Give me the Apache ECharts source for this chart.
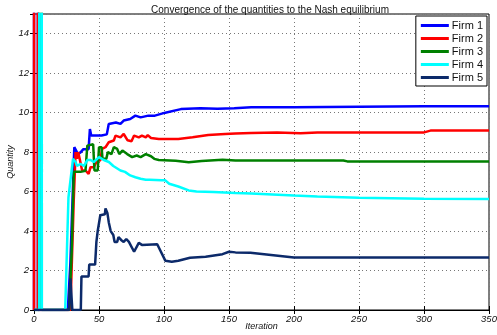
<!DOCTYPE html>
<html>
<head>
<meta charset="utf-8">
<script src="https://cdn.jsdelivr.net/npm/echarts@6/dist/echarts.min.js"></script>
<style>
  html, body { margin: 0; padding: 0; background: #fff; }
  #chart { width: 497px; height: 335px; }
</style>
</head>
<body>
<div id="chart"></div>
<script>
const firmNames = ['Firm 1', 'Firm 2', 'Firm 3', 'Firm 4', 'Firm 5'];
const firmColors = ['#0000ff', '#ff0000', '#008000', '#00ffff', '#0c2a6a'];

// iteration / quantity pairs
const firm1X = [0, 1, 2, 3, 26, 28, 31, 32, 33.8, 36, 38, 42, 43, 44, 52, 56, 57.5, 63, 66.5, 69, 74, 78, 82, 88, 93, 101, 113, 128, 141, 154, 167, 200, 250, 300, 350];
const firm1Y = [0, 0, 1000, 0, 0, 2.4, 8.25, 8.25, 7.9, 8.0, 8.15, 8.15, 9.17, 8.84, 8.84, 8.9, 9.43, 9.5, 9.43, 9.6, 9.68, 9.85, 9.76, 9.85, 9.85, 10.0, 10.18, 10.23, 10.2, 10.23, 10.27, 10.28, 10.3, 10.32, 10.32];

const firm2X = [0, 1, 2, 3, 28, 30.6, 32, 33, 34, 36, 37, 39.6, 42, 43.5, 46, 48.6, 51, 52.4, 55, 57.5, 61.4, 62.7, 66.5, 69, 72, 75, 77, 80.6, 83, 86, 87.5, 90, 96, 111, 122, 134, 147, 155, 167, 187, 205, 218, 250, 300, 305, 350];
const firm2Y = [0, 0, 1000, 0, 0, 5.6, 8.0, 7.66, 8.0, 7.4, 7.07, 7.07, 6.9, 7.24, 7.24, 7.58, 7.58, 8.17, 8.25, 8.5, 8.59, 8.84, 8.75, 8.92, 8.6, 8.55, 8.84, 8.75, 8.84, 8.75, 8.86, 8.72, 8.67, 8.67, 8.75, 8.87, 8.92, 8.95, 8.97, 8.99, 8.96, 9.0, 9.0, 9.0, 9.09, 9.09];

const firm3X = [0, 4, 5, 6, 27, 29, 30.6, 35.8, 39.6, 41, 45.5, 46.5, 49, 50, 52, 52.7, 55.6, 56.8, 59.6, 61.4, 64, 65.6, 68, 71.7, 75.5, 79, 82, 86, 90, 92.5, 96, 109, 119, 129, 145, 155, 167, 238, 241, 350];
const firm3Y = [0, 0, 1000, 0, 0, 3.0, 7.0, 7.0, 7.05, 8.33, 8.4, 7.07, 7.07, 8.25, 8.25, 7.66, 7.66, 8.0, 7.9, 8.25, 8.16, 7.9, 8.08, 7.9, 7.75, 7.83, 7.75, 7.9, 7.79, 7.66, 7.6, 7.56, 7.49, 7.55, 7.62, 7.58, 7.58, 7.58, 7.53, 7.53];

const firm4X = [0, 4, 5, 6, 24, 26.5, 30, 32, 33, 36, 38.5, 41, 43.5, 46, 50, 53.7, 57.6, 61, 66.5, 70, 74, 78, 82, 86, 89, 98, 101, 104, 111, 119, 125, 138, 155, 167, 200, 218, 250, 300, 350];
const firm4Y = [0, 0, 1000, 0, 0, 5.7, 7.66, 7.5, 7.3, 7.4, 7.3, 7.6, 7.6, 7.5, 7.75, 7.6, 7.5, 7.3, 7.07, 7.0, 6.82, 6.73, 6.65, 6.6, 6.6, 6.58, 6.57, 6.4, 6.26, 6.06, 6.0, 5.98, 5.93, 5.9, 5.8, 5.75, 5.69, 5.64, 5.62];

const firm5X = [0, 27, 28, 29.5, 36, 36.5, 42, 42.5, 47, 48, 49, 50, 51, 54.5, 55, 56.5, 57.5, 59, 61, 62, 64, 65, 67, 69, 71, 73, 77, 80.6, 83, 94.8, 101, 106, 111, 120, 132, 145, 150, 155, 166.5, 200, 350];
const firm5Y = [0, 0, 1.6, 0, 0, 1.7, 1.7, 2.3, 2.3, 3.45, 4.0, 4.4, 4.8, 4.85, 5.15, 4.9, 4.45, 4.0, 3.8, 3.45, 3.45, 3.7, 3.55, 3.45, 3.6, 3.45, 2.95, 3.4, 3.3, 3.33, 2.5, 2.45, 2.5, 2.65, 2.7, 2.83, 2.95, 2.92, 2.9, 2.66, 2.66];

const xTicks = [0, 50, 100, 150, 200, 250, 300, 350];
const yTicks = [0, 2, 4, 6, 8, 10, 12, 14];

const firmX = [firm1X, firm2X, firm3X, firm4X, firm5X];
const firmY = [firm1Y, firm2Y, firm3Y, firm4Y, firm5Y];

const font = 'Liberation Sans';
const chart = echarts.init(document.getElementById('chart'));

const gridLine = { show: true, lineStyle: { color: '#777', type: [1, 3], width: 1 } };
const tickIn = { show: true, inside: true, length: 4, lineStyle: { color: '#000' } };

chart.setOption({
  animation: false,
  title: {
    text: 'Convergence of the quantities to the Nash equilibrium',
    left: 265, textAlign: 'center', top: 0,
    textStyle: { fontFamily: font, fontSize: 10, fontWeight: 'normal', color: '#111' }
  },
  grid: { left: 34, right: 8, top: 14, bottom: 25, outerBoundsMode: 'none', containLabel: false,
    show: true, borderColor: '#000', borderWidth: 1 },
  legend: {
    data: firmNames,
    orient: 'vertical',
    right: 10, top: 16,
    backgroundColor: '#fff',
    borderColor: '#000', borderWidth: 1,
    padding: [4, 4, 3, 5],
    itemGap: 2,
    itemWidth: 28, itemHeight: 3,
    icon: 'rect',
    textStyle: { fontFamily: font, fontSize: 11, color: '#111', padding: [0, 0, 0, -2] }
  },
  xAxis: [{
    type: 'value', min: 0, max: 350, interval: 50,
    name: 'Iteration', nameLocation: 'middle', nameGap: 12, nameMoveOverlap: false,
    nameTextStyle: { fontFamily: font, fontSize: 9, fontStyle: 'italic', color: '#111' },
    axisLine: { show: true, lineStyle: { color: '#000' } },
    axisTick: tickIn,
    splitLine: gridLine,
    axisLabel: { fontFamily: font, fontSize: 9.5, fontStyle: 'italic', color: '#111', margin: 4,
      formatter: v => xTicks.includes(v) ? String(v) : '' }
  }, {
    type: 'value', min: 0, max: 350, interval: 50, position: 'top',
    axisLine: { show: true, lineStyle: { color: '#000' } },
    axisTick: tickIn, axisLabel: { show: false }, splitLine: { show: false }
  }],
  yAxis: [{
    type: 'value', min: 0, max: 15, interval: 2,
    name: 'Quantity', nameLocation: 'middle', nameGap: 19, nameMoveOverlap: false,
    nameTextStyle: { fontFamily: font, fontSize: 9, fontStyle: 'italic', color: '#111' },
    axisLine: { show: true, lineStyle: { color: '#000' } },
    axisTick: tickIn,
    splitLine: gridLine,
    axisLabel: { fontFamily: font, fontSize: 9.5, fontStyle: 'italic', color: '#111', margin: 5,
      showMaxLabel: false, formatter: v => yTicks.includes(v) ? String(v) : '' }
  }, {
    type: 'value', min: 0, max: 15, interval: 2, position: 'right',
    axisLine: { show: true, lineStyle: { color: '#000' } },
    axisTick: tickIn, axisLabel: { show: false }, splitLine: { show: false }
  }],
  series: firmNames.map((name, i) => ({
    name: name,
    type: 'line',
    data: firmX[i].map((x, k) => [x, firmY[i][k]]),
    showSymbol: false,
    clip: true,
    color: firmColors[i],
    lineStyle: { width: 2.5, color: firmColors[i] }
  }))
});
</script>
</body>
</html>
